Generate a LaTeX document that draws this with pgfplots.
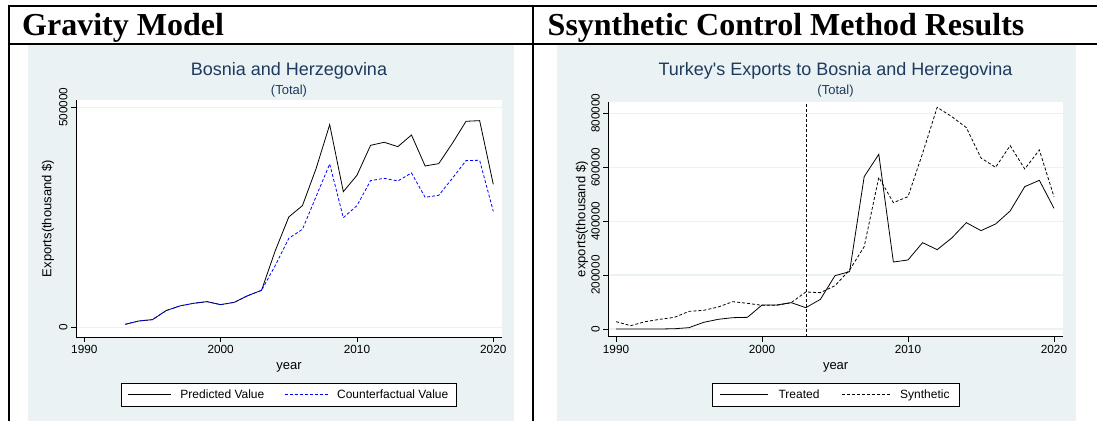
\documentclass[border=0pt]{standalone}
\usepackage{fontspec}
\setmainfont{Liberation Sans}
\newfontfamily\headfont{Liberation Serif}
\newfontfamily\titlefont{Liberation Sans}
\usepackage{pgfplots}
\pgfplotsset{compat=1.18}
\definecolor{bgblue}{RGB}{234,242,243}
\definecolor{titlecol}{RGB}{30,58,95}
\definecolor{cfblue}{RGB}{0,0,255}

\pgfplotsset{
  statastyle/.style={
    scale only axis,
    axis x line=bottom, axis y line=left,
    axis line style={black, line width=0.6pt, -},
    axis background/.style={fill=white},
    tick align=outside,
    major tick length=5pt,
    tick style={black, line width=0.6pt},
    ymajorgrids,
    major grid style={bgblue, line width=1.3pt},
    xtick={1990,2000,2010,2020},
    xticklabels={1990,2000,2010,2020},
    scaled y ticks=false,
    tick label style={font=\fontsize{11.8}{14}\selectfont},
    yticklabel style={rotate=90, anchor=south},
    label style={font=\fontsize{13}{15}\selectfont},
    xlabel={year},
    legend columns=2,
    legend cell align=left,
  }
}

\begin{document}
\begin{tikzpicture}
\path[use as bounding box] (0pt,0pt) rectangle (1097pt,421pt);
\fill[bgblue] (28pt,0pt) rectangle (514pt,376pt);
\fill[bgblue] (557pt,0pt) rectangle (1076pt,376pt);

\draw[line width=2pt] (7.5pt,415pt) -- (1097pt,415pt);
\draw[line width=2pt] (7.5pt,377.2pt) -- (1097pt,377.2pt);
\draw[line width=2pt] (8.5pt,0pt) -- (8.5pt,416pt);
\draw[line width=2pt] (533pt,0pt) -- (533pt,416pt);

\node[anchor=base west, inner sep=0pt, font=\headfont\bfseries\fontsize{32}{36}\selectfont] at (22pt,385pt) {Gravity Model};
\node[anchor=base west, inner sep=0pt, font=\headfont\bfseries\fontsize{32}{36}\selectfont] at (547.5pt,385pt) {Ssynthetic Control Method Results};

\node[anchor=base, inner sep=0pt, text=titlecol, font=\titlefont\fontsize{18}{21}\selectfont] at (289pt,345pt) {Bosnia and Herzegovina};
\node[anchor=base, inner sep=0pt, text=titlecol, font=\titlefont\fontsize{13}{15}\selectfont] at (289pt,326.5pt) {(Total)};
\node[anchor=base, inner sep=0pt, text=titlecol, font=\titlefont\fontsize{18}{21}\selectfont] at (835.5pt,345pt) {Turkey's Exports to Bosnia and Herzegovina};
\node[anchor=base, inner sep=0pt, text=titlecol, font=\titlefont\fontsize{13}{15}\selectfont] at (835.5pt,326.5pt) {(Total)};

% Left: Gravity model
\begin{axis}[statastyle,
  at={(76pt,84pt)}, anchor=south west,
  width=426pt, height=237pt,
  xmin=1989.39, xmax=2020.64,
  ymin=-22045, ymax=516600,
  ytick={0,500000}, yticklabels={0,500000},
  ylabel={Exports(thousand \$)},
  ylabel style={at={(axis description cs:-0.0657,0.5)}, anchor=center, rotate=0},
  xlabel style={at={(axis description cs:0.5,-0.13)}, anchor=center},
  legend image code/.code={\draw[#1] (0pt,0pt) -- (43pt,0pt); \path (50pt,0pt);},
  legend style={at={(0.5,-0.194)}, anchor=north, draw=black, fill=white,
    font=\fontsize{12}{14}\selectfont, inner xsep=6pt, inner ysep=4.5pt,
    /tikz/every even column/.append style={column sep=18pt}},
]
\addplot[black, line width=0.8pt] coordinates {
(1993,6800) (1994,14400) (1995,17400) (1996,37900) (1997,48500) (1998,54500)
(1999,58300) (2000,51500) (2001,56800) (2002,72000) (2003,84100) (2004,173500)
(2005,250800) (2006,276500) (2007,360600) (2008,460600) (2009,308300) (2010,345500)
(2011,413600) (2012,420500) (2013,410600) (2014,437100) (2015,366700) (2016,372000)
(2017,418200) (2018,468200) (2019,469700) (2020,325000)};
\addlegendentry{Predicted Value}
\addplot[cfblue, line width=0.8pt, dash pattern=on 3pt off 2pt] coordinates {
(1993,6800) (1994,14400) (1995,17400) (1996,37900) (1997,48500) (1998,54500)
(1999,58300) (2000,51500) (2001,56800) (2002,72000) (2003,84100) (2004,140000)
(2005,202300) (2006,222700) (2007,297000) (2008,371200) (2009,249200) (2010,276500)
(2011,333300) (2012,338600) (2013,332600) (2014,350800) (2015,295500) (2016,300000)
(2017,338600) (2018,378800) (2019,379600) (2020,263600)};
\addlegendentry{Counterfactual Value}
\end{axis}

% Right: Synthetic control
\begin{axis}[statastyle,
  at={(608.3pt,84.3pt)}, anchor=south west,
  width=454.7pt, height=235pt,
  xmin=1989.47, xmax=2020.62,
  ymin=-28560, ymax=843000,
  ytick={0,200000,400000,600000,800000},
  yticklabels={0,200000,400000,600000,800000},
  ylabel={exports(thousand \$)},
  ylabel style={at={(axis description cs:-0.058,0.5)}, anchor=center, rotate=0},
  xlabel style={at={(axis description cs:0.5,-0.132)}, anchor=center},
  legend image code/.code={\draw[#1] (0pt,0pt) -- (48pt,0pt); \path (56pt,0pt);},
  legend style={at={(0.5,-0.197)}, anchor=north, draw=black, fill=white,
    font=\fontsize{12}{14}\selectfont, inner xsep=8pt, inner ysep=4.5pt,
    /tikz/every even column/.append style={column sep=20pt}},
]
\addplot[black, line width=0.6pt, dash pattern=on 3pt off 2pt, forget plot] coordinates {(2003,-28560) (2003,843000)};
\addplot[black, line width=0.8pt] coordinates {
(1990,0) (1991,0) (1992,0) (1993,0) (1994,1000) (1995,5000) (1996,24700)
(1997,35900) (1998,42000) (1999,43300) (2000,89000) (2001,89000) (2002,97700)
(2003,79100) (2004,110000) (2005,197800) (2006,212700) (2007,565100) (2008,647900)
(2009,248500) (2010,256000) (2011,320300) (2012,294300) (2013,337600) (2014,394400)
(2015,364800) (2016,389500) (2017,437700) (2018,528000) (2019,551500) (2020,447600)};
\addlegendentry{Treated}
\addplot[black, line width=0.8pt, dash pattern=on 3pt off 2pt] coordinates {
(1990,27200) (1991,12400) (1992,27200) (1993,35900) (1994,43300) (1995,65500)
(1996,69200) (1997,81600) (1998,101400) (1999,95200) (2000,87800) (2001,87800)
(2002,97700) (2003,137300) (2004,134800) (2005,160700) (2006,218900) (2007,305400)
(2008,562600) (2009,468600) (2010,490900) (2011,651600) (2012,822300) (2013,787600)
(2014,746800) (2015,634300) (2016,599700) (2017,680100) (2018,593500) (2019,664000)
(2020,490900)};
\addlegendentry{Synthetic}
\end{axis}
\end{tikzpicture}
\end{document}
